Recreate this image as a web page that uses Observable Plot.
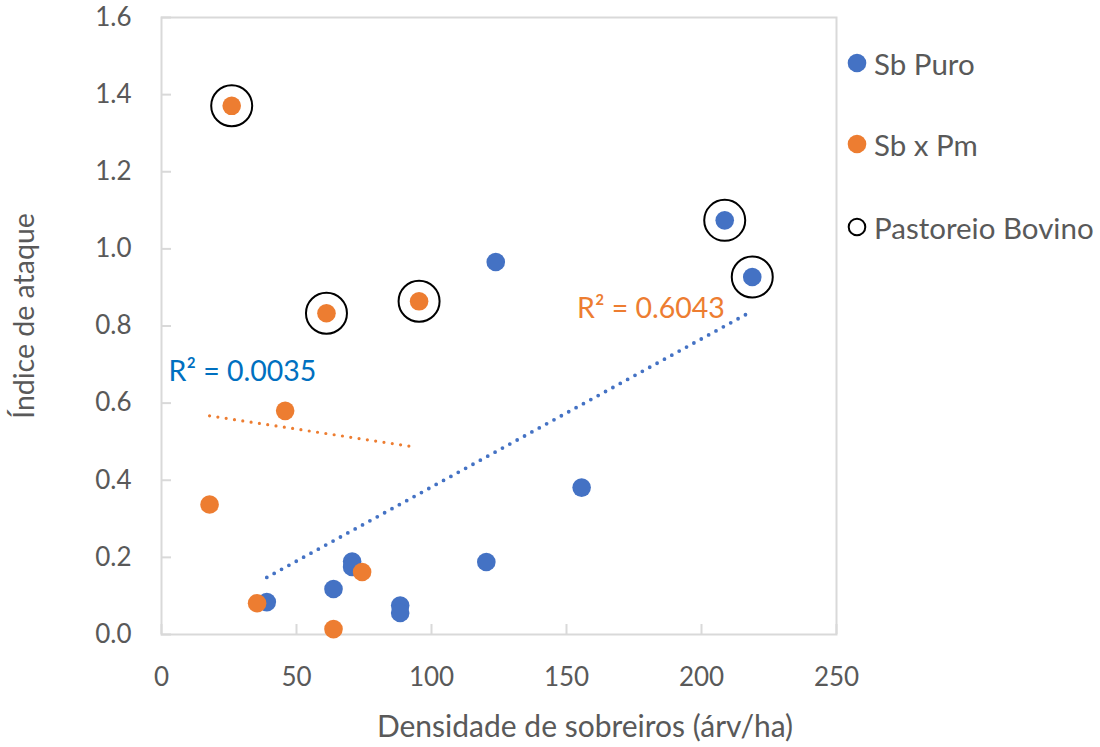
<!DOCTYPE html>
<html><head><meta charset="utf-8">
<script src="https://cdn.jsdelivr.net/npm/d3@7"></script>
<script src="https://cdn.jsdelivr.net/npm/@observablehq/plot@0.6"></script>
<style>
body{margin:0;background:#fff;font-family:Lato,"Open Sans",sans-serif;}
#wrap{position:relative;width:1100px;height:747px;}
#legend{position:absolute;left:846px;top:0;}
.item{position:absolute;left:0;display:flex;align-items:center;white-space:nowrap;font-size:29.5px;color:#595959;}
.item svg{margin-right:6px;}
</style></head><body><div id="wrap"><div id="legend"></div></div>
<script>
// Series: Sb Puro (blue)
const puroX = [39.0, 63.7, 70.6, 70.6, 88.4, 88.4, 120.3, 123.8, 155.6, 208.6, 218.8];
const puroY = [0.084, 0.118, 0.189, 0.175, 0.075, 0.056, 0.188, 0.966, 0.381, 1.074, 0.927];
// Series: Sb x Pm (orange)
const pmX = [26.0, 61.1, 95.4, 45.8, 17.8, 35.4, 63.7, 74.3];
const pmY = [1.371, 0.833, 0.864, 0.580, 0.337, 0.081, 0.014, 0.162];
// Pastoreio Bovino rings
const bovX = [26.0, 61.1, 95.4, 208.6, 218.8];
const bovY = [1.371, 0.833, 0.864, 1.074, 0.927];
// Trend lines (as drawn)
const trendPuroX = [39.0, 217.0];
const trendPuroY = [0.148, 0.832];
const trendPmX = [17.8, 94.0];
const trendPmY = [0.567, 0.486];
// R² labels
const r2Text = ["R² = 0.0035", "R² = 0.6043"];
const r2X = [2.6, 153.9];
const r2Y = [0.68, 0.845];
const r2Color = ["#0070C0", "#ED7D31"];
// Ticks
const xTicks = [0, 50, 100, 150, 200, 250];
const yTicks = [0, 0.2, 0.4, 0.6, 0.8, 1.0, 1.2, 1.4, 1.6];
const legendNames = ["Sb Puro", "Sb x Pm", "Pastoreio Bovino"];
const colors = {puro: "#4472C4", pm: "#ED7D31"};

const puro = puroX.map((x, i) => ({x, y: puroY[i]}));
const pm = pmX.map((x, i) => ({x, y: pmY[i]}));
const bov = bovX.map((x, i) => ({x, y: bovY[i]}));
const tPuro = trendPuroX.map((x, i) => ({x, y: trendPuroY[i]}));
const tPm = trendPmX.map((x, i) => ({x, y: trendPmY[i]}));
const r2 = r2Text.map((t, i) => ({t, x: r2X[i], y: r2Y[i], c: r2Color[i]}));

const W = 1100, H = 747, ml = 161, mr = 264, mt = 17, mb = 113;
const plotH = H - mt - mb, plotW = W - ml - mr;
const grey = "#D9D9D9", txt = "#595959", fs = 26;

const chart = Plot.plot({
  width: W, height: H,
  marginLeft: ml, marginRight: mr, marginTop: mt, marginBottom: mb,
  style: {fontFamily: "Lato, 'Open Sans', sans-serif", background: "#fff", overflow: "visible"},
  x: {domain: [0, 250]},
  y: {domain: [0, 1.6]},
  marks: [
    Plot.frame({stroke: grey, strokeWidth: 2}),
    Plot.tickX(xTicks, {x: d => d, stroke: grey, strokeWidth: 2, insetTop: plotH - 10}),
    Plot.tickY(yTicks, {y: d => d, stroke: grey, strokeWidth: 2, insetRight: plotW - 10}),
    Plot.axisX({ticks: xTicks, tickSize: 0, tickPadding: 33, fontSize: fs, color: txt, label: null, tickFormat: d => String(d)}),
    Plot.axisY({ticks: yTicks, tickSize: 0, tickPadding: 30, fontSize: fs, color: txt, label: null, tickFormat: d => d.toFixed(1)}),
    Plot.text(["Densidade de sobreiros (árv/ha)"], {frameAnchor: "bottom", dx: 86, dy: 93, fontSize: 30, fill: txt, lineAnchor: "middle"}),
    Plot.text(["Índice de ataque"], {frameAnchor: "middle", rotate: -90, textAnchor: "middle", dx: -474, dy: -10, fontSize: 28.5, fill: txt, lineAnchor: "middle"}),
    Plot.line(tPm, {x: "x", y: "y", stroke: colors.pm, strokeWidth: 3.2, strokeDasharray: "0,8.4", strokeLinecap: "round"}),
    Plot.line(tPuro, {x: "x", y: "y", stroke: colors.puro, strokeWidth: 3.8, strokeDasharray: "0,8.4", strokeLinecap: "round"}),
    Plot.dot(puro, {x: "x", y: "y", r: 9.3, fill: colors.puro}),
    Plot.dot(pm, {x: "x", y: "y", r: 9.3, fill: colors.pm}),
    Plot.dot(bov, {x: "x", y: "y", r: 20.5, stroke: "#000", strokeWidth: 2, fill: "none"}),
    Plot.text(r2, {x: "x", y: "y", text: "t", fill: "c", textAnchor: "start", fontSize: 28.5, lineAnchor: "middle"})
  ]
});
document.getElementById("wrap").prepend(chart);

const legendY = [63, 144, 227];
const legendFill = [colors.puro, colors.pm, "none"];
const legendStroke = ["none", "none", "#000"];
const leg = document.getElementById("legend");
legendNames.forEach((n, i) => {
  const d = document.createElement("div");
  d.className = "item";
  d.style.top = (legendY[i] - 18) + "px";
  d.style.height = "36px";
  d.innerHTML = `<svg width="22" height="22"><circle cx="11" cy="11" r="${i===2?8.3:9.3}" fill="${legendFill[i]}" stroke="${legendStroke[i]}" stroke-width="2"/></svg><span>${n}</span>`;
  leg.appendChild(d);
});
</script>
</body></html>
